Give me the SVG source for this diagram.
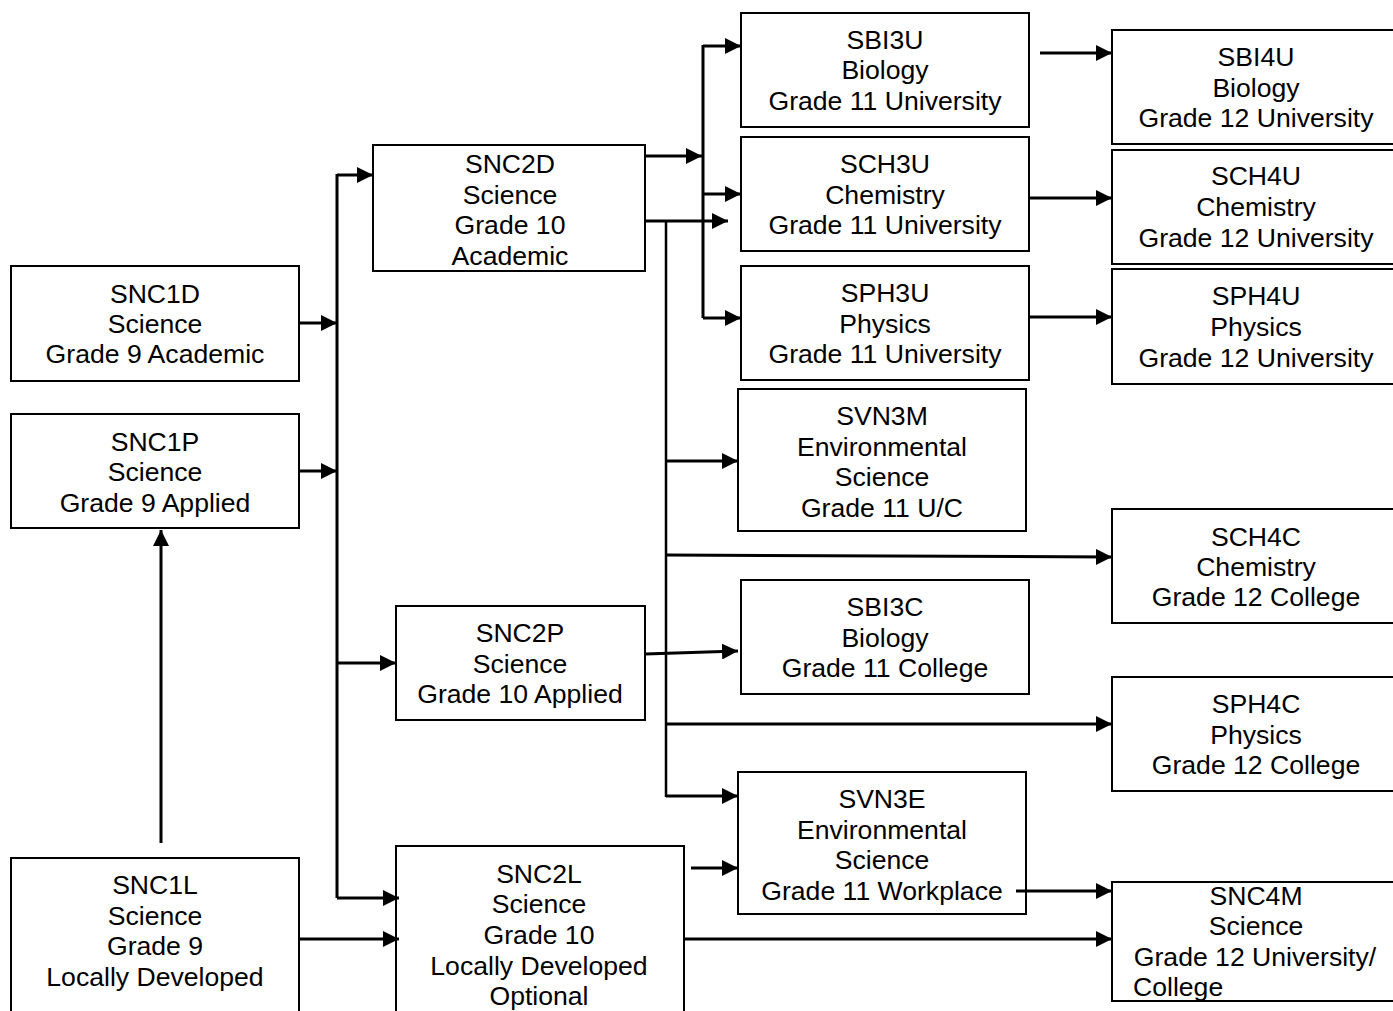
<svg xmlns="http://www.w3.org/2000/svg" width="1393" height="1011" viewBox="0 0 1393 1011">
<style>
.box{fill:none;stroke:#000;stroke-width:2}
text{font-family:"Liberation Sans",Arial,sans-serif;font-size:26.6px;fill:#000;text-anchor:middle}
.c{fill:none;stroke:#000;stroke-width:3}
.a{fill:none;stroke:#000;stroke-width:3;marker-end:url(#ah)}
</style>
<defs>
<marker id="ah" markerUnits="userSpaceOnUse" markerWidth="16" markerHeight="16" refX="16" refY="8" orient="auto">
<path d="M0,0 L16,8 L0,16 z" fill="#000"/>
</marker>
</defs>
<rect width="1393" height="1011" fill="#fff"/>
<g id="SNC1D"><rect class="box" x="11" y="266" width="288" height="115"/><text x="155" y="303">SNC1D</text><text x="155" y="333">Science</text><text x="155" y="363">Grade 9 Academic</text></g>
<g id="SNC1P"><rect class="box" x="11" y="414" width="288" height="114"/><text x="155" y="451">SNC1P</text><text x="155" y="481">Science</text><text x="155" y="512">Grade 9 Applied</text></g>
<g id="SNC1L"><rect class="box" x="11" y="858" width="288" height="160"/><text x="155" y="894">SNC1L</text><text x="155" y="925">Science</text><text x="155" y="955">Grade 9</text><text x="155" y="986">Locally Developed</text></g>
<g id="SNC2D"><rect class="box" x="373" y="145" width="272" height="126"/><text x="510" y="173">SNC2D</text><text x="510" y="204">Science</text><text x="510" y="234">Grade 10</text><text x="510" y="265">Academic</text></g>
<g id="SNC2P"><rect class="box" x="396" y="606" width="249" height="114"/><text x="520" y="642">SNC2P</text><text x="520" y="673">Science</text><text x="520" y="703">Grade 10 Applied</text></g>
<g id="SNC2L"><rect class="box" x="396" y="846" width="288" height="175"/><text x="539" y="883">SNC2L</text><text x="539" y="913">Science</text><text x="539" y="944">Grade 10</text><text x="539" y="975">Locally Developed</text><text x="539" y="1005">Optional</text></g>
<g id="SBI3U"><rect class="box" x="741" y="13" width="288" height="114"/><text x="885" y="49">SBI3U</text><text x="885" y="79">Biology</text><text x="885" y="110">Grade 11 University</text></g>
<g id="SCH3U"><rect class="box" x="741" y="137" width="288" height="114"/><text x="885" y="173">SCH3U</text><text x="885" y="204">Chemistry</text><text x="885" y="234">Grade 11 University</text></g>
<g id="SPH3U"><rect class="box" x="741" y="266" width="288" height="114"/><text x="885" y="302">SPH3U</text><text x="885" y="333">Physics</text><text x="885" y="363">Grade 11 University</text></g>
<g id="SVN3M"><rect class="box" x="738" y="389" width="288" height="142"/><text x="882" y="425">SVN3M</text><text x="882" y="456">Environmental</text><text x="882" y="486">Science</text><text x="882" y="517">Grade 11 U/C</text></g>
<g id="SBI3C"><rect class="box" x="741" y="580" width="288" height="114"/><text x="885" y="616">SBI3C</text><text x="885" y="647">Biology</text><text x="885" y="677">Grade 11 College</text></g>
<g id="SVN3E"><rect class="box" x="738" y="772" width="288" height="142"/><text x="882" y="808">SVN3E</text><text x="882" y="839">Environmental</text><text x="882" y="869">Science</text><text x="882" y="900">Grade 11 Workplace</text></g>
<g id="SBI4U"><rect class="box" x="1112" y="30" width="286" height="114"/><text x="1256" y="66">SBI4U</text><text x="1256" y="97">Biology</text><text x="1256" y="127">Grade 12 University</text></g>
<g id="SCH4U"><rect class="box" x="1112" y="150" width="286" height="114"/><text x="1256" y="185">SCH4U</text><text x="1256" y="216">Chemistry</text><text x="1256" y="247">Grade 12 University</text></g>
<g id="SPH4U"><rect class="box" x="1112" y="269" width="286" height="115"/><text x="1256" y="305">SPH4U</text><text x="1256" y="336">Physics</text><text x="1256" y="367">Grade 12 University</text></g>
<g id="SCH4C"><rect class="box" x="1112" y="509" width="286" height="114"/><text x="1256" y="546">SCH4C</text><text x="1256" y="576">Chemistry</text><text x="1256" y="606">Grade 12 College</text></g>
<g id="SPH4C"><rect class="box" x="1112" y="677" width="286" height="114"/><text x="1256" y="713">SPH4C</text><text x="1256" y="744">Physics</text><text x="1256" y="774">Grade 12 College</text></g>
<g id="SNC4M"><rect class="box" x="1112" y="882" width="286" height="119"/><text x="1256" y="905">SNC4M</text><text x="1256" y="935">Science</text><text x="1255" y="966">Grade 12 University/</text><text x="1133" y="996" style="text-anchor:start">College</text></g>
<g id="connectors">
<line class="c" x1="337" y1="174" x2="337" y2="898"/>
<line class="a" x1="337" y1="175" x2="373" y2="175"/>
<line class="a" x1="299" y1="323" x2="337" y2="323"/>
<line class="a" x1="299" y1="471" x2="337" y2="471"/>
<line class="a" x1="337" y1="663" x2="396" y2="663"/>
<line class="a" x1="337" y1="898" x2="399" y2="898"/>
<line class="a" x1="299" y1="939" x2="399" y2="939"/>
<line class="a" x1="161" y1="843" x2="161" y2="530"/>
<line class="a" x1="645" y1="156" x2="702" y2="156"/>
<line class="c" x1="703" y1="45" x2="703" y2="318"/>
<line class="a" x1="703" y1="46" x2="741" y2="46"/>
<line class="a" x1="703" y1="194" x2="741" y2="194"/>
<line class="a" x1="703" y1="318" x2="741" y2="318"/>
<line class="a" x1="645" y1="221" x2="728" y2="221"/>
<line class="c" x1="666" y1="221" x2="666" y2="797" style="stroke-width:2.5"/>
<line class="a" x1="666" y1="461" x2="738" y2="461"/>
<line class="a" x1="666" y1="555" x2="1112" y2="557"/>
<line class="a" x1="645" y1="654" x2="738" y2="651"/>
<line class="a" x1="666" y1="724" x2="1112" y2="724"/>
<line class="a" x1="666" y1="796" x2="738" y2="796"/>
<line class="a" x1="1040" y1="53" x2="1112" y2="53"/>
<line class="a" x1="1029" y1="198" x2="1112" y2="198"/>
<line class="a" x1="1029" y1="317" x2="1112" y2="317"/>
<line class="a" x1="691" y1="868" x2="738" y2="868"/>
<line class="a" x1="1016" y1="891" x2="1112" y2="891"/>
<line class="a" x1="684" y1="939" x2="1112" y2="939"/>
</g>
</svg>
